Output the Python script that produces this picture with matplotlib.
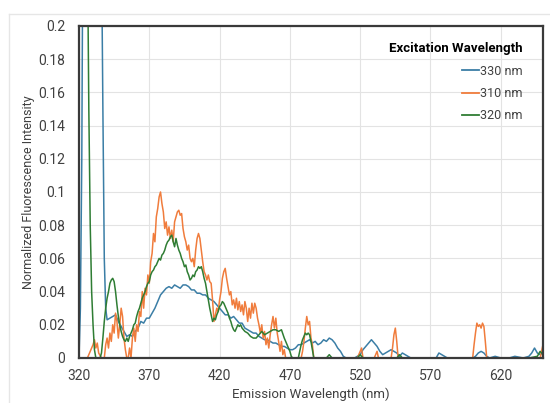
import matplotlib
matplotlib.use("Agg")
import matplotlib.pyplot as plt
from matplotlib.lines import Line2D
import numpy as np

# 330 nm excitation
wl_330 = [320, 321, 322, 323, 325, 330, 334, 336, 337, 338, 339, 340, 342, 344, 346, 348,
          350, 352, 354, 356, 358, 360, 362, 364, 366, 368, 370, 372, 374, 376, 378, 380,
          382, 384, 386, 388, 390, 392, 394, 396, 398, 400, 402, 404, 406, 408, 410, 412,
          414, 416, 418, 420, 422, 424, 426, 428, 430, 432, 434, 436, 438, 440, 442, 444,
          446, 448, 450, 452, 454, 456, 458, 460, 462, 464, 466, 468, 470, 472, 474, 476,
          478, 480, 482, 484, 486, 488, 490, 492, 494, 496, 498, 500, 502, 504, 506, 508,
          510, 516, 518, 520, 522, 524, 526, 528, 530, 532, 534, 536, 538, 540, 542, 544,
          546, 548, 550, 552, 554, 556, 574, 576, 578, 580, 582, 600, 602, 604, 606, 608,
          610, 612, 616, 620, 626, 630, 636, 640, 642, 644, 646, 648, 650]
int_330 = [0.0, 0.03, 0.12, 0.3, 0.6, 0.9, 0.5, 0.25, 0.15, 0.06, 0.03, 0.023, 0.024, 0.025, 0.026, 0.022,
           0.019, 0.016, 0.013, 0.014, 0.013, 0.016, 0.018, 0.022, 0.021, 0.024, 0.024, 0.027, 0.030, 0.034, 0.038, 0.040,
           0.042, 0.043, 0.042, 0.044, 0.043, 0.042, 0.044, 0.044, 0.043, 0.041, 0.041, 0.039, 0.039, 0.038, 0.038, 0.036,
           0.035, 0.034, 0.032, 0.030, 0.028, 0.026, 0.026, 0.024, 0.025, 0.023, 0.021, 0.021, 0.018, 0.017, 0.016, 0.015,
           0.015, 0.013, 0.012, 0.011, 0.011, 0.010, 0.009, 0.009, 0.008, 0.007, 0.007, 0.006, 0.005, 0.005, 0.006, 0.008,
           0.008, 0.009, 0.010, 0.011, 0.009, 0.010, 0.008, 0.009, 0.011, 0.010, 0.012, 0.011, 0.009, 0.006, 0.004, 0.001,
           0.0, 0.0, 0.001, 0.002, 0.005, 0.007, 0.009, 0.011, 0.009, 0.007, 0.004, 0.002, 0.003, 0.004, 0.005, 0.004,
           0.003, 0.001, 0.003, 0.002, 0.001, 0.0, 0.0, 0.003, 0.002, 0.001, 0.0, 0.0, 0.001, 0.003, 0.004, 0.003,
           0.001, 0.0, 0.001, 0.0, 0.0, 0.001, 0.0, 0.001, 0.003, 0.006, 0.003, 0.002, 0.003]

# 310 nm excitation
wl_310 = [326, 328, 330, 331, 332, 333, 334, 336, 338, 339, 340, 341, 342, 343, 344, 345,
          346, 347, 348, 349, 350, 351, 352, 353, 354, 355, 356, 357, 358, 359, 360, 361,
          362, 363, 364, 365, 366, 367, 368, 369, 370, 371, 372, 373, 374, 375, 376, 377,
          378, 379, 380, 381, 382, 383, 384, 385, 386, 387, 388, 389, 390, 391, 392, 393,
          394, 395, 396, 397, 398, 399, 400, 401, 402, 403, 404, 405, 406, 407, 408, 409,
          410, 411, 412, 413, 414, 415, 416, 417, 418, 419, 420, 421, 422, 423, 424, 425,
          426, 427, 428, 429, 430, 431, 432, 433, 434, 435, 436, 437, 438, 439, 440, 441,
          442, 443, 444, 445, 446, 447, 448, 449, 450, 451, 452, 453, 454, 455, 456, 457,
          458, 459, 460, 461, 462, 463, 464, 465, 466, 467, 478, 479, 480, 481, 482, 483,
          484, 485, 486, 487, 518, 520, 521, 522, 530, 532, 533, 542, 543, 544, 545, 546,
          547, 600, 601, 602, 603, 604, 605, 606, 607, 608, 609, 610, 648, 649, 650]
int_310 = [0.0, 0.004, 0.008, 0.011, 0.006, 0.009, 0.003, 0.0, 0.0, 0.008, 0.012, 0.006, 0.015, 0.010, 0.020, 0.015,
           0.027, 0.022, 0.012, 0.020, 0.030, 0.025, 0.012, 0.005, 0.0, 0.0, 0.006, 0.0, 0.012, 0.018, 0.010, 0.020,
           0.016, 0.028, 0.025, 0.040, 0.030, 0.042, 0.038, 0.050, 0.045, 0.058, 0.063, 0.075, 0.070, 0.085, 0.090, 0.097,
           0.100, 0.093, 0.088, 0.078, 0.082, 0.074, 0.079, 0.072, 0.077, 0.070, 0.082, 0.085, 0.088, 0.089, 0.086, 0.087,
           0.078, 0.073, 0.070, 0.065, 0.068, 0.060, 0.058, 0.060, 0.055, 0.065, 0.072, 0.075, 0.072, 0.065, 0.058, 0.052,
           0.050, 0.047, 0.050, 0.046, 0.045, 0.035, 0.022, 0.026, 0.030, 0.028, 0.035, 0.040, 0.048, 0.052, 0.054, 0.048,
           0.043, 0.038, 0.040, 0.032, 0.035, 0.030, 0.036, 0.029, 0.034, 0.028, 0.032, 0.026, 0.034, 0.030, 0.022, 0.030,
           0.024, 0.033, 0.027, 0.033, 0.030, 0.024, 0.020, 0.015, 0.020, 0.012, 0.016, 0.008, 0.012, 0.006, 0.014, 0.020,
           0.025, 0.018, 0.024, 0.015, 0.010, 0.004, 0.010, 0.002, 0.005, 0.0, 0.0, 0.004, 0.010, 0.018, 0.025, 0.020,
           0.022, 0.012, 0.008, 0.0, 0.0, 0.004, 0.006, 0.0, 0.0, 0.004, 0.0, 0.0, 0.006, 0.014, 0.018, 0.010,
           0.0, 0.0, 0.008, 0.015, 0.021, 0.019, 0.020, 0.018, 0.021, 0.019, 0.010, 0.0, 0.0, 0.004, 0.008]

# 320 nm excitation
wl_320 = [320, 324, 326, 327, 328, 329, 330, 331, 332, 335, 336, 337, 338, 339, 340, 341,
          342, 343, 344, 345, 346, 347, 348, 349, 350, 351, 352, 353, 354, 355, 356, 357,
          358, 359, 360, 361, 362, 363, 364, 365, 366, 367, 368, 369, 370, 371, 372, 373,
          374, 375, 376, 377, 378, 379, 380, 381, 382, 383, 384, 385, 386, 387, 388, 389,
          390, 391, 392, 393, 394, 395, 396, 397, 398, 399, 400, 401, 402, 403, 404, 405,
          406, 407, 408, 409, 410, 411, 412, 413, 414, 415, 416, 417, 418, 419, 420, 421,
          422, 423, 424, 425, 426, 427, 428, 429, 430, 431, 432, 433, 434, 435, 436, 438,
          440, 442, 444, 446, 448, 450, 452, 454, 456, 458, 460, 462, 464, 466, 468, 469,
          470, 471, 472, 476, 477, 478, 479, 480, 481, 482, 483, 484, 485, 486, 487, 496,
          498, 500, 518, 520, 522, 546, 548, 550, 640, 646, 648, 650]
int_320 = [0.5, 0.4, 0.25, 0.15, 0.08, 0.04, 0.02, 0.005, 0.0, 0.0, 0.003, 0.012, 0.022, 0.030, 0.036, 0.040,
           0.045, 0.047, 0.048, 0.046, 0.040, 0.032, 0.025, 0.020, 0.016, 0.013, 0.011, 0.010, 0.012, 0.010, 0.013, 0.015,
           0.017, 0.020, 0.021, 0.025, 0.028, 0.030, 0.033, 0.036, 0.038, 0.040, 0.043, 0.045, 0.046, 0.050, 0.052, 0.053,
           0.055, 0.056, 0.058, 0.060, 0.059, 0.062, 0.063, 0.065, 0.068, 0.070, 0.071, 0.073, 0.074, 0.070, 0.067, 0.072,
           0.068, 0.065, 0.063, 0.060, 0.058, 0.055, 0.056, 0.052, 0.050, 0.047, 0.048, 0.050, 0.049, 0.052, 0.053, 0.055,
           0.054, 0.055, 0.052, 0.048, 0.045, 0.040, 0.035, 0.030, 0.026, 0.022, 0.024, 0.023, 0.026, 0.028, 0.031, 0.032,
           0.034, 0.033, 0.031, 0.029, 0.027, 0.024, 0.022, 0.019, 0.017, 0.016, 0.018, 0.020, 0.019, 0.020, 0.018, 0.016,
           0.015, 0.013, 0.012, 0.012, 0.014, 0.016, 0.014, 0.015, 0.016, 0.017, 0.017, 0.016, 0.017, 0.012, 0.008, 0.006,
           0.004, 0.001, 0.0, 0.0, 0.004, 0.008, 0.011, 0.013, 0.015, 0.014, 0.015, 0.014, 0.010, 0.005, 0.0, 0.0,
           0.002, 0.0, 0.0, 0.002, 0.0, 0.0, 0.002, 0.0, 0.0, 0.001, 0.004, 0.002]

series = [("330 nm", wl_330, int_330, "#3b7ea6"),
          ("310 nm", wl_310, int_310, "#f07c3c"),
          ("320 nm", wl_320, int_320, "#2f7d34")]

plt.rcParams['font.family'] = ['Roboto', 'DejaVu Sans']

fig = plt.figure(figsize=(5.5, 4.03), dpi=100)
ax = fig.add_axes([0.1436, 0.1117, 0.8436, 0.8238])

for name, x, y, c in series:
    ax.plot(x, y, color=c, lw=1.1, label=name)

ax.set_xlim(320, 650)
ax.set_ylim(0, 0.2)
ax.set_xticks(np.arange(320, 650, 50))
ax.set_yticks(np.arange(0, 0.201, 0.02))
ax.set_yticklabels(["%g" % round(v, 2) for v in np.arange(0, 0.201, 0.02)])
ax.grid(True, color="#e3e3e3", lw=0.8)
ax.set_axisbelow(True)
ax.tick_params(length=0, labelsize=10, labelcolor="#404040")
ax.tick_params(axis="y", pad=10)
ax.tick_params(axis="x", pad=8)
for s in ax.spines.values():
    s.set_color("#3a3a3a")
    s.set_linewidth(1.6)

ax.set_xlabel("Emission Wavelength (nm)", fontsize=9.5, color="#404040", labelpad=3)
ax.set_ylabel("Normalized Fluorescence Intensity", fontsize=9, color="#404040", labelpad=2)

handles = [Line2D([], [], color=c, lw=1.3) for _, _, _, c in series]
leg = ax.legend(handles, [n for n, _, _, _ in series], title="Excitation Wavelength",
                loc="upper right", bbox_to_anchor=(0.98, 0.985), frameon=False,
                alignment="right", fontsize=9, handlelength=1.3, handletextpad=0.1,
                labelspacing=0.75, labelcolor="#404040")
leg.get_title().set_fontweight("bold")
leg.get_title().set_fontsize(9.5)

# light outer frame of the chart area
fig.add_artist(Line2D([9 / 550, 1], [1 - 14 / 403] * 2, color="#e6e6e6", lw=1.0))
fig.add_artist(Line2D([9 / 550] * 2, [0, 1 - 14 / 403], color="#e6e6e6", lw=1.0))

fig.savefig("out.png", dpi=100)
